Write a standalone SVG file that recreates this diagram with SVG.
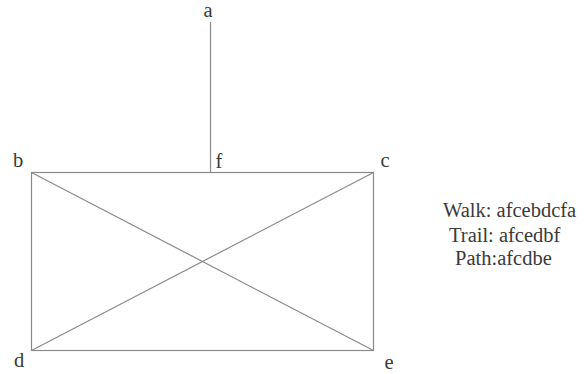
<svg xmlns="http://www.w3.org/2000/svg" width="586" height="374" viewBox="0 0 586 374">
<style>
.l{stroke:#8a8a8a;stroke-width:1.2;fill:none}
.t{font-family:"Liberation Serif",serif;font-size:20.5px;fill:#3a3a3a}
</style>
<rect width="586" height="374" fill="#fff"/>
<g id="connectors">
<line class="l" x1="210.5" y1="22" x2="210.5" y2="172.5"/>
<rect class="l" x="31.5" y="172.5" width="342" height="178"/>
<line class="l" x1="31.5" y1="172.5" x2="373.5" y2="350.5"/>
<line class="l" x1="31.5" y1="350.5" x2="373.5" y2="172.5"/>
</g>
<g id="a"><text class="t" x="208" y="17" text-anchor="middle">a</text></g>
<g id="b"><text class="t" x="18" y="167" text-anchor="middle">b</text></g>
<g id="f"><text class="t" x="219" y="168" text-anchor="middle">f</text></g>
<g id="c"><text class="t" x="385" y="167" text-anchor="middle">c</text></g>
<g id="d"><text class="t" x="19" y="367" text-anchor="middle">d</text></g>
<g id="e"><text class="t" x="389" y="369" text-anchor="middle">e</text></g>
<g id="legend">
<text class="t" x="443" y="217">Walk: afcebdcfa</text>
<text class="t" x="449" y="242">Trail: afcedbf</text>
<text class="t" x="455" y="265">Path:afcdbe</text>
</g>
</svg>
